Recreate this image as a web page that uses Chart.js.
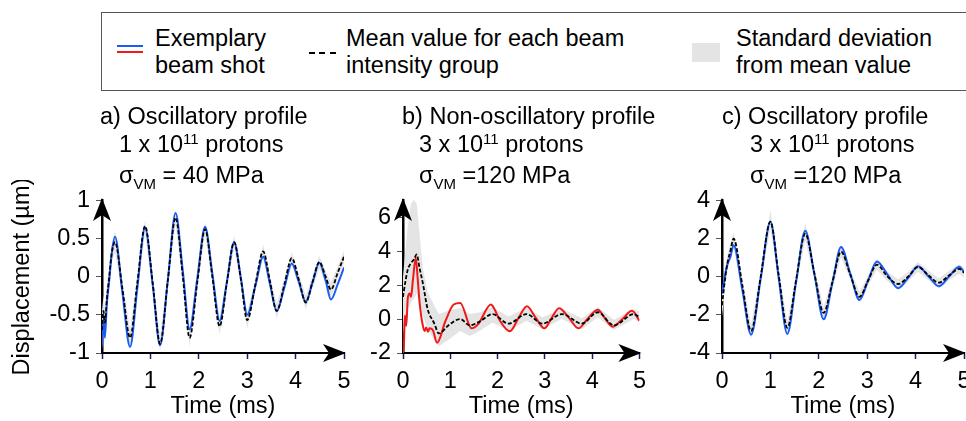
<!doctype html>
<html>

<head>
    <title>Displacement profiles</title>
    <script src="https://cdn.jsdelivr.net/npm/chart.js"></script>
    <style>
        html, body {
            margin: 0;
            padding: 0;
            width: 966px;
            height: 421px;
            overflow: hidden;
            background: #fff;
            font-family: 'Liberation Sans', Arial, sans-serif;
            font-size: 23.5px;
            color: #000;
        }
        .abs { position: absolute; }
        .txt { line-height: 27px; white-space: nowrap; }
        .ttl { line-height: 28px; white-space: nowrap; }
        .sup { position: relative; top: -8px; font-size: 15px; }
        .sub { position: relative; top: 6px; font-size: 15px; }
        canvas { position: absolute; }
    </style>
</head>

<body>
    <!-- legende -->
    <div class="abs" style="left: 101px; top: 12px; width: 870px; height: 77px; border: 1.5px solid #555;"></div>
    <div class="abs" style="left: 117px; top: 45px; width: 26px; height: 2px; background: #1a5af5;"></div>
    <div class="abs" style="left: 117px; top: 51px; width: 26px; height: 2px; background: #f01818;"></div>
    <div class="abs txt" style="left: 155px; top: 25px;">Exemplary<br>beam shot</div>
    <div class="abs" style="left: 309px; top: 52px; width: 27px; height: 1.5px;
        background: repeating-linear-gradient(90deg, #000 0 6px, transparent 6px 10.5px);"></div>
    <div class="abs txt" style="left: 346px; top: 25px;">Mean value for each beam<br>intensity group</div>
    <div class="abs" style="left: 692px; top: 43px; width: 28px; height: 19px; background: #e4e4e4;"></div>
    <div class="abs txt" style="left: 736px; top: 25px;">Standard deviation<br>from mean value</div>

    <canvas id="chartA" style="left: 0px; top: 180px;" width="366" height="241"></canvas>
    <canvas id="chartB" style="left: 330px; top: 180px;" width="324" height="241"></canvas>
    <canvas id="chartC" style="left: 650px; top: 180px;" width="334" height="241"></canvas>

    <!-- titulos -->
    <div class="abs ttl" style="left: 100px; top: 102px;">a) Oscillatory profile<br>
        <span style="padding-left: 19px;">1 x 10<span class="sup">11</span> protons</span><br>
        <span style="padding-left: 19px;">σ<span class="sub">VM</span> = 40 MPa</span></div>
    <div class="abs ttl" style="left: 402px; top: 102px;">b) Non-oscillatory profile<br>
        <span style="padding-left: 17px;">3 x 10<span class="sup">11</span> protons</span><br>
        <span style="padding-left: 17px;">σ<span class="sub">VM</span> =120 MPa</span></div>
    <div class="abs ttl" style="left: 722px; top: 102px;">c) Oscillatory profile<br>
        <span style="padding-left: 28px;">3 x 10<span class="sup">11</span> protons</span><br>
        <span style="padding-left: 28px;">σ<span class="sub">VM</span> =120 MPa</span></div>

    <script>
        // eixos
        var xTicks = [0, 1, 2, 3, 4, 5];
        var yTicksA = [-1, -0.5, 0, 0.5, 1];
        var yTicksB = [-2, 0, 2, 4, 6];
        var yTicksC = [-4, -2, 0, 2, 4];

        // a) 1e11 protons
        var tA = [0, 0.03, 0.06, 0.1, 0.15, 0.2, 0.27, 0.42, 0.58, 0.73, 0.89, 1.05, 1.2, 1.36, 1.52, 1.67, 1.81, 1.97, 2.13, 2.28,
            2.43, 2.58, 2.73, 2.87, 3.0, 3.17, 3.33, 3.47, 3.61, 3.77, 3.92, 4.07, 4.21, 4.35, 4.49, 4.62, 4.73, 4.87, 5.0];
        var shotA = [-0.9, -0.55, -0.8, -0.35, -0.05, 0.3, 0.52, -0.2, -0.92, -0.15, 0.64, -0.12, -0.9, -0.05, 0.83, 0.07, -0.69, -0.02, 0.65, 0.04,
            -0.58, -0.07, 0.45, -0.02, -0.5, -0.12, 0.26, -0.1, -0.45, -0.14, 0.17, -0.08, -0.33, -0.08, 0.18, -0.05, -0.3, -0.1, 0.12];
        var meanA = [-0.7, -0.45, -0.6, -0.3, 0.0, 0.3, 0.45, -0.15, -0.8, -0.08, 0.66, -0.1, -0.88, -0.05, 0.77, 0.0, -0.8, -0.07, 0.62, 0.0,
            -0.65, -0.08, 0.45, -0.04, -0.57, -0.1, 0.33, -0.06, -0.45, -0.1, 0.24, -0.05, -0.34, -0.07, 0.19, 0.0, -0.17, 0.05, 0.26];
        var sdUpA = [-0.45, -0.25, -0.4, -0.12, 0.15, 0.42, 0.6, -0.06, -0.68, 0.0, 0.74, -0.02, -0.76, 0.03, 0.87, 0.08, -0.68, 0.01, 0.72, 0.08,
            -0.54, 0.0, 0.54, 0.04, -0.47, -0.02, 0.42, 0.02, -0.36, -0.02, 0.32, 0.03, -0.25, 0.01, 0.27, 0.08, -0.08, 0.13, 0.34];
        var sdLoA = [-0.95, -0.7, -0.85, -0.5, -0.15, 0.18, 0.32, -0.25, -0.95, -0.16, 0.56, -0.18, -0.98, -0.13, 0.68, -0.08, -0.92, -0.15, 0.54, -0.08,
            -0.76, -0.16, 0.37, -0.12, -0.68, -0.18, 0.24, -0.14, -0.55, -0.18, 0.15, -0.13, -0.43, -0.15, 0.11, -0.08, -0.27, -0.03, 0.18];

        // b) 3e11 protons, nao oscilatorio
        var tShotB = [0, 0.02, 0.04, 0.07, 0.1, 0.14, 0.17, 0.21, 0.27, 0.31, 0.35, 0.42, 0.46, 0.49, 0.53, 0.56, 0.63, 0.72, 0.9, 1.07,
            1.21, 1.45, 1.59, 1.86, 1.93, 2.05, 2.26, 2.45, 2.62, 2.8, 2.99, 3.15, 3.3, 3.5, 3.71, 3.9, 4.12, 4.28, 4.43, 4.64, 4.84, 5.0];
        var shotB = [-2.0, -1.4, 0.2, -0.4, 1.2, 1.5, 1.3, 2.3, 3.6, 2.4, 1.0, -0.4, -0.7, -0.5, -0.75, -0.55, -0.65, -1.4, -0.1, 0.85,
            0.95, -0.55, -0.3, 0.85, 0.6, -0.1, -0.72, 0.1, 0.75, 0.1, -0.55, 0.1, 0.63, 0.1, -0.55, 0.0, 0.55, 0.0, -0.45, 0.0, 0.48, -0.1];
        var tB = [0, 0.05, 0.1, 0.17, 0.23, 0.29, 0.35, 0.42, 0.52, 0.66, 0.76, 0.97, 1.21, 1.41, 1.62, 1.89, 2.23, 2.61, 2.95, 3.36,
            3.78, 4.12, 4.46, 4.88, 5.0];
        var meanB = [1.3, 2.2, 2.9, 3.3, 3.5, 3.8, 3.0, 2.1, 0.6, -0.25, -0.85, -0.35, 0.0, -0.37, -0.15, 0.29, -0.27, 0.29, -0.27, 0.29,
            -0.27, 0.4, -0.37, 0.29, 0.1];
        var sdUpB = [2.5, 4.0, 5.5, 6.8, 7.0, 6.8, 5.0, 3.0, 1.6, 0.8, 0.3, 0.5, 0.65, 0.3, 0.4, 0.7, 0.15, 0.65, 0.1, 0.6,
            0.05, 0.7, -0.05, 0.6, 0.4];
        var sdLoB = [-1.0, 0.0, 0.5, 1.0, 1.2, 1.5, 0.8, 0.2, -0.6, -1.2, -1.6, -1.2, -0.7, -1.0, -0.7, -0.2, -0.7, -0.1, -0.6, 0.0,
            -0.6, 0.1, -0.65, 0.0, -0.2];

        // c) 3e11 protons, oscilatorio
        var tC = [0, 0.04, 0.08, 0.12, 0.17, 0.24, 0.42, 0.6, 0.8, 1.0, 1.17, 1.35, 1.53, 1.72, 1.91, 2.1, 2.28, 2.46, 2.65, 2.84,
            3.02, 3.2, 3.42, 3.64, 3.85, 4.05, 4.27, 4.48, 4.69, 4.9, 5.0];
        var shotC = [-0.9, -0.3, 0.3, 0.7, 1.0, 1.64, -0.7, -3.04, -0.1, 2.87, -0.05, -3.0, -0.3, 2.4, 0.1, -2.24, -0.35, 1.55, 0.15, -1.23,
            -0.2, 0.79, 0.1, -0.61, -0.05, 0.54, 0.0, -0.51, 0.0, 0.51, 0.25];
        var meanC = [-1.5, -0.6, 0.2, 0.8, 1.3, 1.98, -0.45, -2.84, 0.0, 2.87, 0.1, -2.68, -0.2, 2.24, 0.15, -1.9, -0.3, 1.3, 0.1, -1.06,
            -0.2, 0.62, 0.0, -0.39, 0.0, 0.5, 0.05, -0.32, 0.05, 0.4, 0.2];
        var sdUpC = [-0.9, 0.0, 0.7, 1.2, 1.7, 2.3, -0.15, -2.5, 0.3, 3.5, 0.4, -2.35, 0.1, 2.8, 0.45, -1.6, 0.0, 1.65, 0.35, -0.8,
            0.05, 0.9, 0.25, -0.15, 0.25, 0.75, 0.3, -0.1, 0.3, 0.65, 0.45];
        var sdLoC = [-2.1, -1.2, -0.3, 0.4, 0.9, 1.5, -0.75, -3.3, -0.3, 2.5, -0.2, -3.1, -0.5, 1.9, -0.15, -2.3, -0.6, 1.0, -0.15, -1.35,
            -0.45, 0.35, -0.25, -0.65, -0.25, 0.25, -0.2, -0.6, -0.2, 0.15, -0.05];

        var fonte = { family: "'Liberation Sans', Arial, sans-serif", size: 23.5 };

        function pontos(t, v) {
            return t.map((x, i) => ({ x: x, y: v[i] }));
        }

        // setas nos eixos
        var setas = {
            id: 'setas',
            afterDraw(chart) {
                var ctx = chart.ctx;
                var a = chart.chartArea;
                ctx.save();
                ctx.fillStyle = '#000';
                ctx.beginPath();
                ctx.moveTo(a.left, a.top - 2);
                ctx.lineTo(a.left - 9, a.top + 21);
                ctx.lineTo(a.left, a.top + 15);
                ctx.lineTo(a.left + 9, a.top + 21);
                ctx.closePath();
                ctx.fill();
                ctx.beginPath();
                ctx.moveTo(a.right + 2, a.bottom);
                ctx.lineTo(a.right - 21, a.bottom - 9);
                ctx.lineTo(a.right - 15, a.bottom);
                ctx.lineTo(a.right - 21, a.bottom + 9);
                ctx.closePath();
                ctx.fill();
                ctx.restore();
            }
        };

        function criarGrafico(id, cfg) {
            var datasets = [
                {
                    data: pontos(cfg.tMean, cfg.sdUp), fill: '+1', backgroundColor: '#e4e4e4',
                    borderWidth: 0, pointRadius: 0, order: 3
                },
                {
                    data: pontos(cfg.tMean, cfg.sdLo), fill: false,
                    borderWidth: 0, pointRadius: 0, order: 2
                },
                {
                    data: pontos(cfg.tShot, cfg.shot), borderColor: cfg.cor, borderWidth: 2,
                    pointRadius: 0, cubicInterpolationMode: 'monotone', order: 1
                },
                {
                    data: pontos(cfg.tMean, cfg.mean), borderColor: '#000', borderWidth: 1.8, borderDash: [4, 2],
                    pointRadius: 0, cubicInterpolationMode: 'monotone', order: 0
                }
            ];
            return new Chart(document.getElementById(id), {
                type: 'line',
                data: { datasets: datasets },
                options: {
                    responsive: false,
                    animation: false,
                    events: [],
                    layout: { padding: { left: 0, right: cfg.padRight, top: 15, bottom: 0 } },
                    plugins: { legend: { display: false }, tooltip: { enabled: false } },
                    scales: {
                        x: {
                            type: 'linear', min: 0, max: 5,
                            afterBuildTicks: (s) => { s.ticks = xTicks.map(v => ({ value: v })); },
                            afterFit: (s) => { s.height = 68; },
                            grid: { drawOnChartArea: false, drawTicks: true, tickLength: 6, tickColor: '#1c1c5c', tickWidth: 1.5 },
                            border: { color: '#000', width: 2 },
                            ticks: { font: fonte, color: '#000', padding: 8, maxRotation: 0, callback: (v) => String(v) },
                            title: { display: true, text: 'Time (ms)', font: fonte, color: '#000', padding: { top: 0, bottom: 0 } }
                        },
                        y: {
                            type: 'linear', min: cfg.yMin, max: cfg.yMax,
                            afterBuildTicks: (s) => { s.ticks = cfg.yTicks.map(v => ({ value: v })); },
                            afterFit: (s) => { s.width = cfg.yWidth; },
                            grid: { drawOnChartArea: false, drawTicks: true, tickLength: 6, tickColor: '#555', tickWidth: 1 },
                            border: { color: '#000', width: 2.5 },
                            ticks: { font: fonte, color: '#000', padding: 6, callback: (v) => String(v) },
                            title: {
                                display: !!cfg.yTitle, text: cfg.yTitle || '', font: fonte, color: '#000',
                                padding: { top: 8, bottom: 0 }
                            }
                        }
                    }
                },
                plugins: [setas]
            });
        }

        var graficoA = criarGrafico('chartA', {
            tShot: tA, shot: shotA, tMean: tA, mean: meanA, sdUp: sdUpA, sdLo: sdLoA, cor: '#1a5af5',
            yMin: -1, yMax: 1, yTicks: yTicksA, yWidth: 102, padRight: 22, yTitle: 'Displacement (µm)'
        });
        var graficoB = criarGrafico('chartB', {
            tShot: tShotB, shot: shotB, tMean: tB, mean: meanB, sdUp: sdUpB, sdLo: sdLoB, cor: '#f01818',
            yMin: -2, yMax: 7, yTicks: yTicksB, yWidth: 73, padRight: 8
        });
        var graficoC = criarGrafico('chartC', {
            tShot: tC, shot: shotC, tMean: tC, mean: meanC, sdUp: sdUpC, sdLo: sdLoC, cor: '#1a5af5',
            yMin: -4, yMax: 4, yTicks: yTicksC, yWidth: 72, padRight: 20
        });
    </script>
</body>

</html>
